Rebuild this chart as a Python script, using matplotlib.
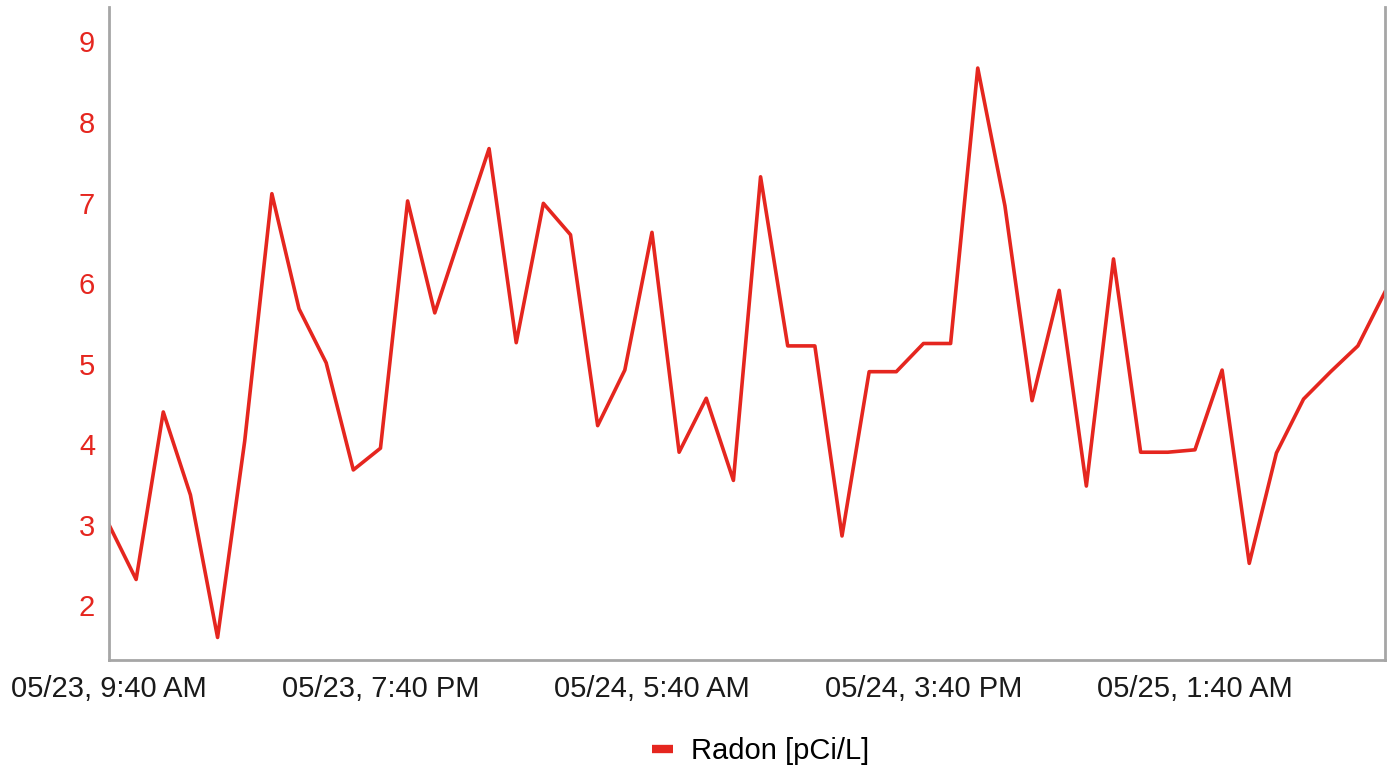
import numpy as np
import pandas as pd
import matplotlib
matplotlib.use('Agg')
import matplotlib.pyplot as plt
import matplotlib.dates as mdates
from matplotlib.ticker import FuncFormatter

plt.rcParams['font.family'] = ['Liberation Sans', 'DejaVu Sans']

# hourly radon readings, 05/23 9:40 AM onward
start = '2023-05-23 09:40'
radon = [3.00, 2.32, 4.40, 3.37, 1.60, 4.04, 7.11, 5.68, 5.01, 3.68,
         3.95, 7.02, 5.63, 6.65, 7.67, 5.26, 6.99, 6.60, 4.23, 4.92,
         6.63, 3.90, 4.57, 3.55, 7.32, 5.22, 5.22, 2.86, 4.90, 4.90,
         5.25, 5.25, 8.67, 6.96, 4.54, 5.91, 3.48, 6.30, 3.90, 3.90,
         3.93, 4.92, 2.52, 3.89, 4.56, 4.90, 5.22, 5.89]
times = pd.date_range(start, periods=len(radon), freq='h')
tick_times = pd.date_range(start, periods=5, freq='10h')

red = '#e5261f'
spine_col = '#a6a6a6'

fig = plt.figure(figsize=(13.9, 7.68), dpi=100)
ax = fig.add_axes([0.0784, 0.1406, 0.918, 0.8505])
ax.plot(times, radon, color=red, lw=2.6, label='Radon [pCi/L]')

ax.set_xlim(times[0], times[-1])
ax.set_ylim(1.32, 9.43)
ax.set_yticks(range(2, 10))
ax.set_xticks(tick_times)


def fmt_time(x, pos):
    d = mdates.num2date(x)
    return '%s, %d:%s' % (d.strftime('%m/%d'), int(d.strftime('%I')),
                          d.strftime('%M %p'))


ax.xaxis.set_major_formatter(FuncFormatter(fmt_time))
ax.tick_params(axis='both', length=0, labelsize=21)
ax.tick_params(axis='y', colors=red, pad=10)
ax.tick_params(axis='x', colors='#1a1a1a', pad=11)
ax.spines['top'].set_visible(False)
for s in ['left', 'right', 'bottom']:
    ax.spines[s].set_color(spine_col)
    ax.spines[s].set_linewidth(2)

leg = fig.legend(loc='center', bbox_to_anchor=(0.547, 0.022),
                 frameon=False, fontsize=21, handlelength=0.75,
                 handletextpad=0.6, borderpad=0, borderaxespad=0)
for h in leg.get_lines():
    h.set_linewidth(6)
    h.set_solid_capstyle('butt')

fig.savefig('out.png', dpi=100)
